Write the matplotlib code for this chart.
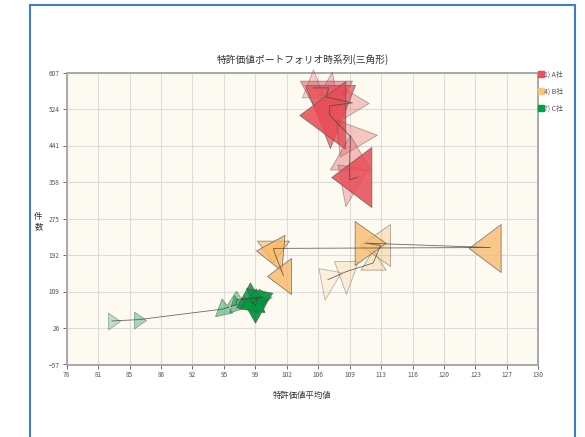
import numpy as np
import matplotlib
matplotlib.use("Agg")
import matplotlib.pyplot as plt
from matplotlib.markers import MarkerStyle
from matplotlib.path import Path
from matplotlib.transforms import Affine2D
from matplotlib.patches import Rectangle
from matplotlib.lines import Line2D

plt.rcParams['font.family'] = ['Noto Sans CJK JP', 'DejaVu Sans']

title = '特許価値ポートフォリオ時系列(三角形)'
x_label = '特許価値平均値'
y_label = '件\n数'

x_ticks = np.linspace(78, 130, 16)
x_tick_labels = ['78', '81', '85', '88', '92', '95', '99', '102', '106', '109',
                 '113', '116', '120', '123', '127', '130']
y_ticks = [-57, 26, 109, 192, 275, 358, 441, 524, 607]

names = ['1) A社', '4) B社', '7) C社']
colors = ['#e84c55', '#f8b865', '#009a3e']
legend_colors = ['#e8505b', '#f9c37e', '#00a040']

# A社 (time order: light = old, dark = new)
a_x = [105.2, 106.9, 106.6, 109.5, 107.0, 107.0, 109.3, 109.2, 109.2, 110.1]
a_y = [572, 572, 551, 538, 531, 510, 461, 413, 363, 369]
a_len = [28, 25, 49, 25, 63, 46, 39, 35, 40, 40]     # tip to base, px
a_base = [22, 18, 52, 30, 50, 68, 37, 40, 30, 60]    # base width, px
a_dir = [90, 80, 270, 0, 270, 180, 5, 330, 260, 180]
a_alpha = [.25, .3, .5, .3, .7, .85, .3, .35, .3, .85]

# B社
b_x = [106.8, 108.8, 111.8, 112.6, 110.9, 124.7, 100.8, 100.9, 101.9]
b_y = [136, 154, 174, 214, 219, 209, 207, 198, 145]
b_len = [30, 33, 20, 30, 31, 32, 22, 27, 24]
b_base = [23, 24, 25, 42, 44, 48, 32, 36, 36]
b_dir = [260, 270, 90, 180, 0, 180, 270, 175, 180]
b_alpha = [.15, .2, .3, .35, .75, .75, .6, .8, .8]

# C社
c_x = [83.0, 85.9, 95.2, 96.7, 96.7, 99.6, 98.2, 98.8, 99.1, 98.5]
c_y = [42, 45, 69, 79, 90, 96, 92, 76, 94, 82]
c_len = [12, 12, 15, 14, 14, 13, 25, 25, 23, 23]
c_base = [17, 17, 19, 18, 18, 17, 28, 28, 27, 25]
c_dir = [0, 0, 340, 345, 90, 0, 90, 270, 20, 200]
c_alpha = [.25, .35, .45, .5, .4, .5, .85, .95, .9, 1.0]

series = [
    (a_x, a_y, a_len, a_base, a_dir, a_alpha),
    (b_x, b_y, b_len, b_base, b_dir, b_alpha),
    (c_x, c_y, c_len, c_base, c_dir, c_alpha),
]


def triangle_marker(length, base, angle):
    # sizes given in px, convert to points (dpi 100)
    L = length * 0.72
    B = base * 0.72
    verts = [(2 * L / 3, 0), (-L / 3, B / 2), (-L / 3, -B / 2), (2 * L / 3, 0)]
    codes = [Path.MOVETO, Path.LINETO, Path.LINETO, Path.CLOSEPOLY]
    ms = 2 * max(2 * L / 3, B / 2)
    m = MarkerStyle(Path(verts, codes), transform=Affine2D().rotate_deg(angle))
    return m, ms


fig = plt.figure(figsize=(5.85, 4.37), dpi=100)
fig.patch.set_facecolor('white')
ax = fig.add_axes([66.7 / 585, (437 - 364.5) / 437, 471.6 / 585, 292 / 437])
ax.set_facecolor('#fdfaf1')

for (xs, ys, ls, bs, ds, als), col in zip(series, colors):
    rgb = matplotlib.colors.to_rgb(col)
    for x, y, l, b, d, a in zip(xs, ys, ls, bs, ds, als):
        m, ms = triangle_marker(l, b, d)
        ax.plot([x], [y], ls='none', marker=m, markersize=ms,
                markerfacecolor=(*rgb, a),
                markeredgecolor=(0.35, 0.35, 0.35, min(1, 0.35 + a * 0.5)),
                markeredgewidth=0.6, clip_on=False, zorder=3)
    ax.plot(xs, ys, color='#444444', lw=0.6, alpha=0.8, zorder=5, clip_on=False)

ax.set_xlim(78, 130)
ax.set_ylim(-57, 607)
ax.set_xticks(x_ticks)
ax.set_xticklabels(x_tick_labels)
ax.set_yticks(y_ticks)
ax.grid(True, color='#dcdcdc', lw=0.8)
ax.set_axisbelow(True)
ax.tick_params(labelsize=4.7, colors='#555555', length=3, width=0.6, pad=2)
for s in ax.spines.values():
    s.set_color('#a8a8a8')
    s.set_linewidth(1.4)

ax.set_title(title, fontsize=7, color='#333333', pad=7)
ax.set_xlabel(x_label, fontsize=6, color='#333333', labelpad=8)
ax.set_ylabel(y_label, fontsize=6, color='#333333', rotation=0, linespacing=1.2,
              va='center', ha='center')
ax.yaxis.set_label_coords(-0.06, 0.49)

handles = [Line2D([], [], ls='none', marker='s', markersize=4, color=c) for c in legend_colors]
leg = fig.legend(handles, names, loc='upper left', bbox_to_anchor=(536 / 585, 1 - 68 / 437),
                 frameon=False, fontsize=5, handlelength=0.6, handletextpad=0.2,
                 labelspacing=1.3, borderaxespad=0)
for t in leg.get_texts():
    t.set_color('#555555')

frame = Rectangle((30 / 585, -0.05), (575 - 30) / 585, 1.05 - 5 / 437,
                  transform=fig.transFigure, fill=False, ec='#3d7fc6', lw=1.5)
fig.add_artist(frame)

fig.savefig('out.png', dpi=100)
